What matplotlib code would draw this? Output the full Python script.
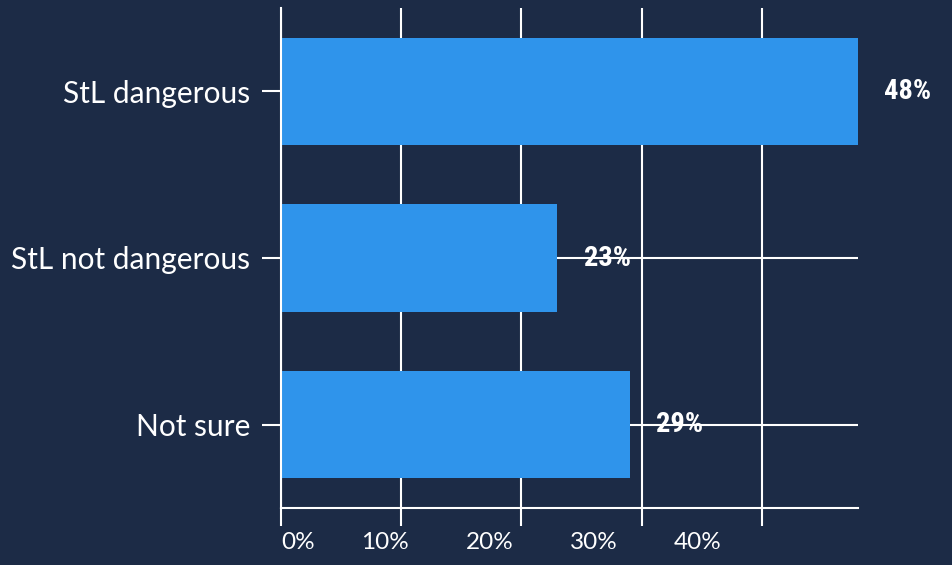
import matplotlib.pyplot as plt
from matplotlib import font_manager

BG = "#1c2b46"
BAR = "#2f94eb"

categories = ["Not sure", "StL not dangerous", "StL dangerous"]
values = [29, 23, 48]
xticks = [0, 10, 20, 30, 40]
xlabels = ["0%", "10%", "20%", "30%", "40%"]

names = {f.name for f in font_manager.fontManager.ttflist}
label_font = "Lato" if "Lato" in names else "DejaVu Sans"
value_font, value_stretch = "DejaVu Sans", "condensed"
for cand in ["Roboto Condensed", "Liberation Sans Narrow"]:
    if cand in names:
        value_font, value_stretch = cand, "normal"
        break

fig = plt.figure(figsize=(9.52, 5.65), dpi=100, facecolor=BG)
ax = fig.add_axes([281 / 952, 57 / 565, 577 / 952, 500 / 565])
ax.set_facecolor(BG)

ypos = list(range(len(categories)))
ax.barh(ypos, values, height=0.645, color=BAR, zorder=3)
ax.set_xlim(0, 48)
ax.set_ylim(-0.5, 2.5)

ax.set_yticks(ypos)
ax.set_yticklabels(categories, fontsize=21.5, color="white", family=label_font)
ax.set_xticks(xticks)
ax.set_xticklabels([])
ax.tick_params(axis="y", length=14, width=1.5, color="white", pad=8)
ax.tick_params(axis="x", length=13, width=1.5, color="white")
ax.grid(True, color="white", linewidth=1.5, zorder=1)

for s in ["top", "right"]:
    ax.spines[s].set_visible(False)
for s in ["left", "bottom"]:
    ax.spines[s].set_color("white")
    ax.spines[s].set_linewidth(1.5)
    ax.spines[s].set_zorder(4)

# tick labels sit on a slightly compressed scale in the original
k = 40 / 34.67
sec = ax.secondary_xaxis("bottom", functions=(lambda x: x * k, lambda x: x / k))
sec.set_xticks(xticks)
sec.set_xticklabels(xlabels, fontsize=17.5, color="white", family=label_font)
sec.tick_params(length=0, pad=17)
sec.spines["bottom"].set_visible(False)
sec.get_xticklabels()[0].set_ha("left")

for y, v in zip(ypos, values):
    ax.annotate(f"{v}%", (v, y), xytext=(19, 0), textcoords="offset points",
                ha="left", va="center", color="white", fontsize=20.5,
                fontweight="bold", fontstretch=value_stretch,
                family=value_font, zorder=5)

fig.savefig("out.png", dpi=100, facecolor=BG)
